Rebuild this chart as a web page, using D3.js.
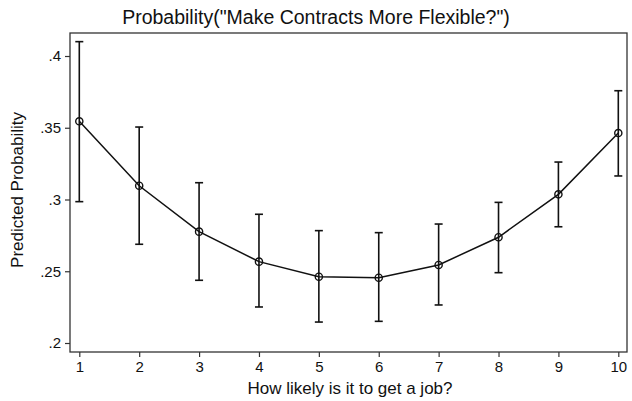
<!DOCTYPE html>
<html>
<head>
<meta charset="utf-8">
<script src="https://cdn.jsdelivr.net/npm/d3@7"></script>
<style>
  body { margin: 0; background: #fff; }
  svg text { font-family: "Liberation Sans", Arial, sans-serif; fill: #111; }
</style>
</head>
<body>
<script>
// Predicted probability by perceived job-finding likelihood, with 95% CIs
const categories = [1, 2, 3, 4, 5, 6, 7, 8, 9, 10];
const predicted  = [0.3545, 0.3096, 0.2776, 0.2567, 0.2462, 0.2455, 0.2544, 0.2737, 0.3036, 0.3463];
const upperCI    = [0.4100, 0.3505, 0.3117, 0.2897, 0.2783, 0.2769, 0.2829, 0.2980, 0.3261, 0.3758];
const lowerCI    = [0.2985, 0.2688, 0.2437, 0.2251, 0.2146, 0.2151, 0.2265, 0.2490, 0.2810, 0.3164];
const yTicks     = [0.2, 0.25, 0.3, 0.35, 0.4];
const yTickLabels = [".2", ".25", ".3", ".35", ".4"];

const W = 632, H = 401;
const frame = { left: 70, right: 627, top: 33, bottom: 352 };

const svg = d3.select("body").append("svg")
  .attr("width", W).attr("height", H);

const x = d3.scaleLinear().domain([1, 10]).range([79.3, 618.3]);
const y = d3.scaleLinear().domain([0.2, 0.4]).range([343, 56]);

// plot region frame
svg.append("rect")
  .attr("x", frame.left).attr("y", frame.top)
  .attr("width", frame.right - frame.left)
  .attr("height", frame.bottom - frame.top)
  .attr("fill", "none").attr("stroke", "#333").attr("stroke-width", 1.3);

// y axis
const yAxis = d3.axisLeft(y)
  .tickValues(yTicks)
  .tickFormat((d, i) => yTickLabels[i])
  .tickSize(5).tickPadding(4);
const gy = svg.append("g").attr("transform", `translate(${frame.left},0)`).call(yAxis);
gy.select(".domain").remove();
gy.selectAll("line").attr("stroke", "#333").attr("stroke-width", 1.2);
gy.selectAll("text").style("font-size", "15px").attr("fill", "#111")
  .style("font-family", "Liberation Sans, Arial, sans-serif");

// x axis
const xAxis = d3.axisBottom(x)
  .tickValues(categories)
  .tickFormat(d3.format("d"))
  .tickSize(5).tickPadding(4);
const gx = svg.append("g").attr("transform", `translate(0,${frame.bottom})`).call(xAxis);
gx.select(".domain").remove();
gx.selectAll("line").attr("stroke", "#333").attr("stroke-width", 1.2);
gx.selectAll("text").style("font-size", "15px").attr("fill", "#111")
  .style("font-family", "Liberation Sans, Arial, sans-serif");

// confidence interval bars with caps
const rows = categories.map((c, i) => ({ c, p: predicted[i], lo: lowerCI[i], hi: upperCI[i] }));
const eb = svg.append("g").attr("stroke", "#111").attr("stroke-width", 1.6);
eb.selectAll("line.v").data(rows).join("line").attr("class", "v")
  .attr("x1", d => x(d.c)).attr("x2", d => x(d.c))
  .attr("y1", d => y(d.lo)).attr("y2", d => y(d.hi));
eb.selectAll("line.t").data(rows).join("line").attr("class", "t")
  .attr("x1", d => x(d.c) - 4).attr("x2", d => x(d.c) + 4)
  .attr("y1", d => y(d.hi)).attr("y2", d => y(d.hi));
eb.selectAll("line.b").data(rows).join("line").attr("class", "b")
  .attr("x1", d => x(d.c) - 4).attr("x2", d => x(d.c) + 4)
  .attr("y1", d => y(d.lo)).attr("y2", d => y(d.lo));

// connecting line
svg.append("path").datum(rows)
  .attr("fill", "none").attr("stroke", "#111").attr("stroke-width", 1.5)
  .attr("d", d3.line().x(d => x(d.c)).y(d => y(d.p)));

// hollow circle markers
svg.append("g").selectAll("circle").data(rows).join("circle")
  .attr("cx", d => x(d.c)).attr("cy", d => y(d.p)).attr("r", 3.6)
  .attr("fill", "none").attr("stroke", "#111").attr("stroke-width", 1.4);

// titles
svg.append("text").attr("x", 316).attr("y", 24).attr("text-anchor", "middle")
  .style("font-size", "19.5px").text('Probability("Make Contracts More Flexible?")');
svg.append("text").attr("x", 350).attr("y", 394).attr("text-anchor", "middle")
  .style("font-size", "17px").text("How likely is it to get a job?");
svg.append("text").attr("transform", "translate(23,190) rotate(-90)")
  .attr("text-anchor", "middle").style("font-size", "17px").text("Predicted Probability");
</script>
</body>
</html>
